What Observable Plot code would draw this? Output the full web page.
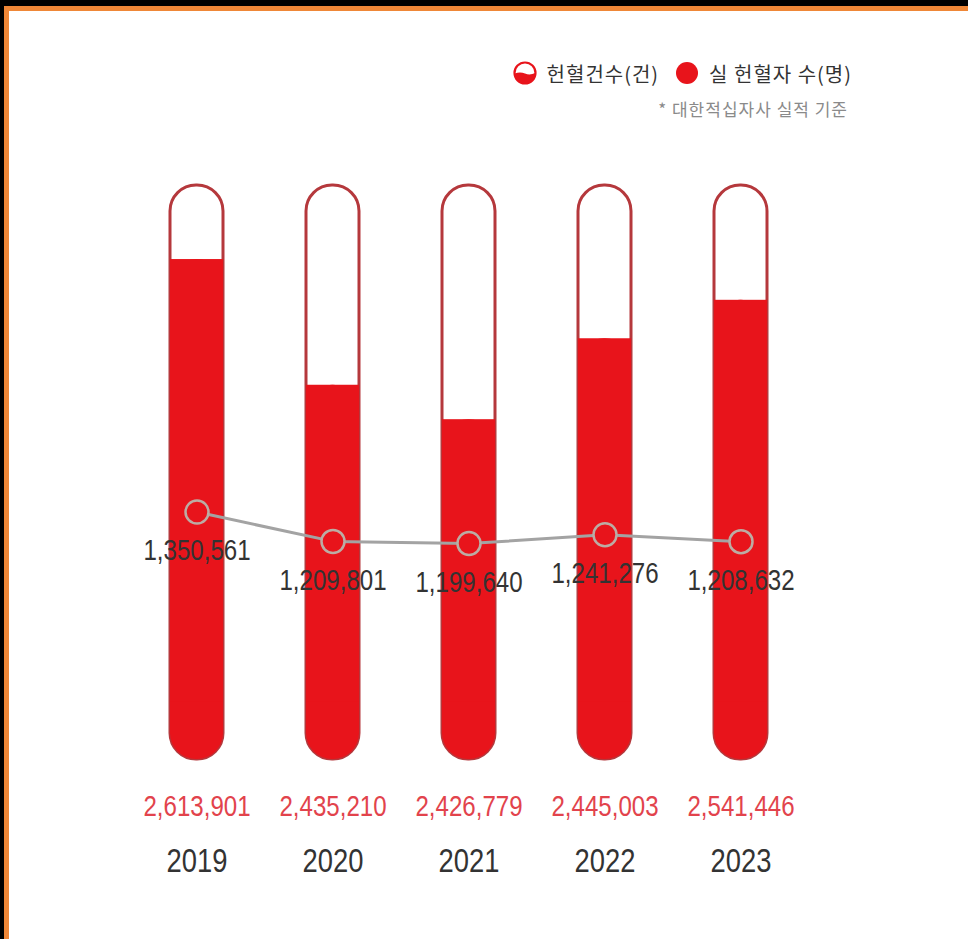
<!DOCTYPE html>
<html><head><meta charset="utf-8">
<script src="https://cdn.jsdelivr.net/npm/d3@7"></script>
<script src="https://cdn.jsdelivr.net/npm/@observablehq/plot@0.6"></script>
<style>
html,body{margin:0;padding:0;background:#000;width:968px;height:939px;overflow:hidden}
#frame{position:absolute;left:4px;top:6px;width:959px;height:928px;border-top:5px solid #ef8737;border-left:5px solid #ef8737;background:#fff}
#header{position:relative;height:139px;font-family:"Noto Sans CJK KR","Noto Sans",sans-serif}
#legend{position:absolute;right:116px;top:50px;height:24px;display:flex;align-items:center;font-size:20px;color:#333;letter-spacing:1px}
#legend .item{display:flex;align-items:center;margin-left:16px}
#legend svg{margin-right:10px}
#note{position:absolute;right:120px;top:88px;font-size:17px;color:#8a8a8a;letter-spacing:1px;line-height:20px}
#chart{position:relative;width:959px;height:789px}
#chart svg.overlay{position:absolute;left:0;top:0}
</style></head>
<body>
<div id="frame">
  <div id="header">
    <div id="legend">
      <div class="item"><svg width="24" height="24" viewBox="0 0 24 24"><circle cx="12" cy="12" r="10.5" fill="#fff" stroke="#e8141b" stroke-width="2.2"/><path d="M1.8 12.5 Q7 10.5 12 12.5 T22.2 12 A10.2 10.2 0 0 1 1.8 12.5Z" fill="#e8141b"/></svg><span>헌혈건수(건)</span></div>
      <div class="item"><svg width="24" height="24" viewBox="0 0 24 24"><circle cx="12" cy="12" r="11" fill="#e8141b"/></svg><span>실 헌혈자 수(명)</span></div>
    </div>
    <div id="note">* 대한적십자사 실적 기준</div>
  </div>
  <div id="chart"></div>
</div>
<script>
const years = ["2019", "2020", "2021", "2022", "2023"];
const donations = [2613901, 2435210, 2426779, 2445003, 2541446];
const donors = [1350561, 1209801, 1199640, 1241276, 1208632];
const fillPct = [87.1, 65.2, 59.2, 73.3, 80.0];

const data = years.map((year, i) => ({year, donations: donations[i], donors: donors[i], fill: fillPct[i]}));
const fmt = d3.format(",");
const RED = "#e8141b";
const OUTLINE = "#b5383c";
const NUMFONT = "'Liberation Sans',Arial,sans-serif";

const common = {
  width: 959, height: 789,
  marginTop: 35, marginBottom: 180, marginLeft: 77, marginRight: 117
};
const xScale = {type: "band", domain: years, padding: 0.61};

const chartA = Plot.plot({
  ...common,
  style: {fontFamily: NUMFONT, color: "#333", background: "#fff"},
  x: {...xScale, axis: null},
  y: {domain: [0, 100], axis: null},
  marks: [
    Plot.barY(data, {x: "year", y1: 0, y2: 100, fill: "#fff", stroke: OUTLINE, strokeWidth: 3, rx: 26}),
    Plot.barY(data, {x: "year", y1: 0, y2: "fill", fill: RED, rx: 26}),
    Plot.barY(data, {x: "year", y1: 10, y2: "fill", fill: RED}),
    Plot.text(data, {x: "year", frameAnchor: "bottom", dy: 56, text: d => fmt(d.donations), fill: "#e2434c", fontSize: 29}),
    Plot.axisX({tickSize: 0, tickPadding: 89, fontSize: 33, label: null})
  ]
});

const chartB = Plot.plot({
  ...common,
  style: {fontFamily: NUMFONT, color: "#333", background: "transparent"},
  x: {...xScale, axis: null},
  y: {domain: [162840, 2918040], axis: null},
  marks: [
    Plot.line(data, {x: "year", y: "donors", stroke: "#a3a3a3", strokeWidth: 3}),
    Plot.dot(data, {x: "year", y: "donors", r: 11.5, fill: RED, stroke: "#bcaca4", strokeWidth: 2.5}),
    Plot.text(data, {x: "year", y: "donors", dy: 39, text: d => fmt(d.donors), fill: "#333", fontSize: 29})
  ]
});
chartB.classList.add("overlay");
const c = document.getElementById("chart");
c.appendChild(chartA);
c.appendChild(chartB);
// condensed look of the original numerals
for (const t of c.querySelectorAll("text")) {
  const len = t.getComputedTextLength();
  if (len > 0) {
    t.setAttribute("textLength", (len * 0.83).toFixed(1));
    t.setAttribute("lengthAdjust", "spacingAndGlyphs");
  }
}
</script>
</body></html>
